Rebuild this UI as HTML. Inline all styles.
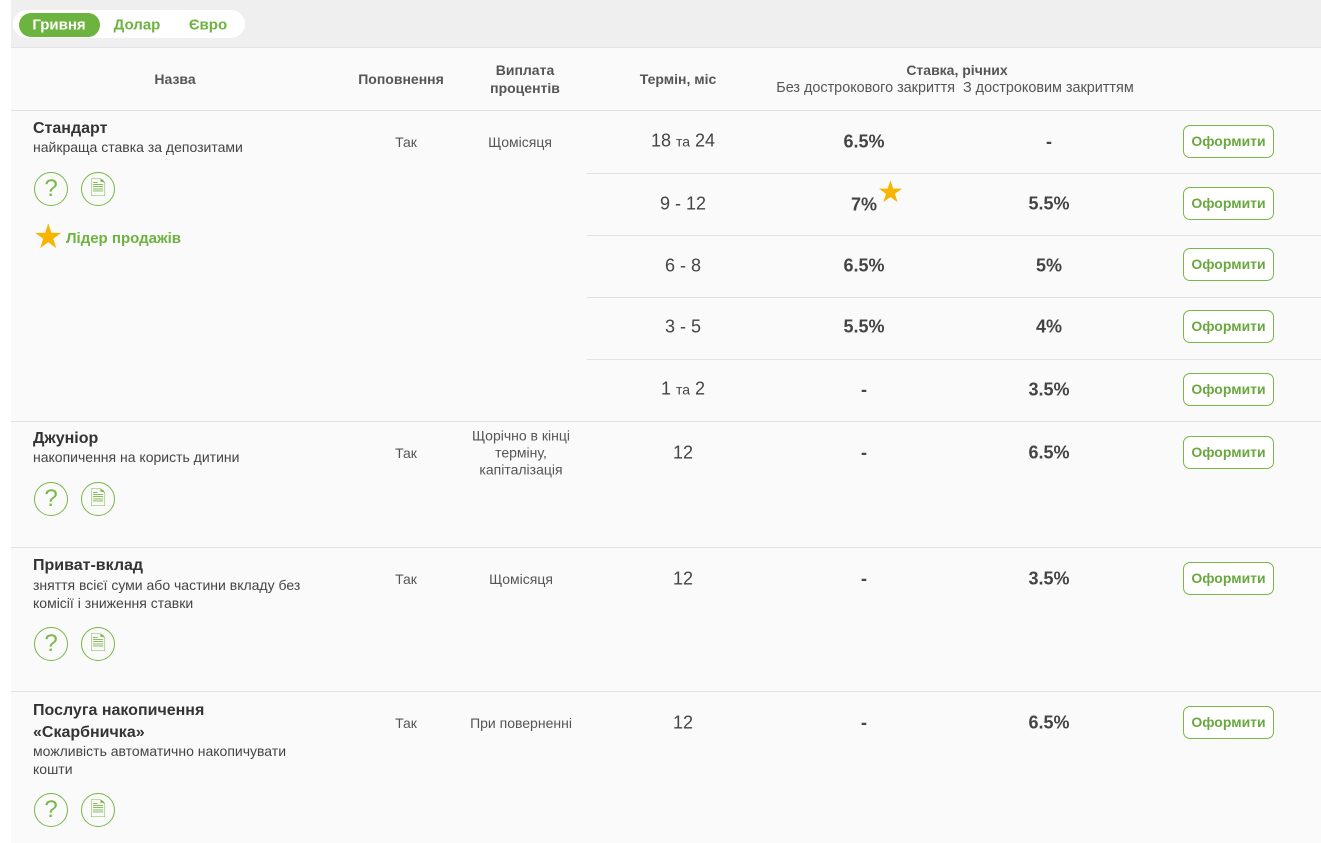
<!DOCTYPE html><html><head><meta charset="utf-8"><style>
body{margin:0;width:1321px;height:843px;position:relative;overflow:hidden;background:#fff;font-family:"Liberation Sans",Arial,sans-serif;color:#444}
.a{position:absolute;white-space:nowrap}
.c{position:absolute;transform:translate(-50%,-50%);white-space:nowrap;text-align:center}
.hl{position:absolute;height:1px;background:#e2e2e2;right:0}
.h{font-size:14px;font-weight:bold;color:#555}
.t{font-size:14px;color:#555}
.n{font-size:18px;color:#444}
.r{font-size:18px;font-weight:bold;color:#444}
.btn{position:absolute;left:1183px;width:89px;height:31px;border:1px solid #7ab648;border-radius:7px;color:#6aa83f;font-weight:bold;font-size:14px;line-height:31px;text-align:center;background:#fff}
.ic{position:absolute;width:32px;height:32px;border:1.5px solid #7ab648;border-radius:50%;color:#7ab648;text-align:center;line-height:32px;font-size:24px}
.ttl{font-size:16px;font-weight:bold;color:#333}
.sub{font-size:14px;color:#444}
</style></head><body>
<div class="a" style="left:11px;top:0;width:1310px;height:47px;background:#efefef"></div>
<div class="a" style="left:11px;top:47px;width:1310px;height:796px;background:#fafafa"></div>
<div class="a" style="left:13px;top:10px;width:232px;height:28px;border-radius:14px;background:#fff"></div>
<div class="a" style="left:19px;top:13px;width:81px;height:24px;border-radius:12px;background:#6cb33f"></div>
<div class="c" style="left:59px;top:25px;font-size:15px;font-weight:bold;color:#fff">Гривня</div>
<div class="c" style="left:137px;top:25px;font-size:15px;font-weight:bold;color:#6cb33f">Долар</div>
<div class="c" style="left:208px;top:25px;font-size:15px;font-weight:bold;color:#6cb33f">Євро</div>
<div class="hl" style="left:11px;top:47px"></div>
<div class="hl" style="left:11px;top:110px"></div>
<div class="hl" style="left:587px;top:173px"></div>
<div class="hl" style="left:587px;top:235px"></div>
<div class="hl" style="left:587px;top:297px"></div>
<div class="hl" style="left:587px;top:359px"></div>
<div class="hl" style="left:11px;top:421px"></div>
<div class="hl" style="left:11px;top:547px"></div>
<div class="hl" style="left:11px;top:691px"></div>

<div class="c h" style="left:175px;top:79px">Назва</div>
<div class="c h" style="left:401px;top:79px">Поповнення</div>
<div class="c h" style="left:525px;top:79px;line-height:18px">Виплата<br>процентів</div>
<div class="c h" style="left:678px;top:79px">Термін, міс</div>
<div class="c h" style="left:957px;top:70px">Ставка, річних</div>
<div class="c t" style="left:955px;top:88px;font-size:14.4px">Без дострокового закриття &nbsp;З достроковим закриттям</div>

<!-- Standart -->
<div class="a ttl" style="left:33px;top:120px">Стандарт</div>
<div class="a sub" style="left:33px;top:139px">найкраща ставка за депозитами</div>
<div class="ic" style="left:34px;top:172px">?</div>
<div class="ic" style="left:81px;top:172px;font-size:20px">🗎</div>
<div class="a" style="left:33px;top:220px;font-size:34px;color:#f7b500;line-height:34px">★</div>
<div class="a" style="left:66px;top:230px;font-size:15px;font-weight:bold;color:#6cb33f">Лідер продажів</div>
<div class="c t" style="left:406px;top:142px">Так</div>
<div class="c t" style="left:520px;top:142px">Щомісяця</div>

<div class="c n" style="left:683px;top:141px">18 <span style="font-size:14px">та</span> 24</div>
<div class="c r" style="left:864px;top:142px">6.5%</div>
<div class="c r" style="left:1049px;top:142px">-</div>
<div class="btn" style="top:125px">Оформити</div>

<div class="c n" style="left:683px;top:204px">9 - 12</div>
<div class="c r" style="left:864px;top:205px">7%</div>
<div class="a" style="left:877px;top:178px;font-size:30px;color:#f7b500;line-height:30px">★</div>
<div class="c r" style="left:1049px;top:204px">5.5%</div>
<div class="btn" style="top:187px">Оформити</div>

<div class="c n" style="left:683px;top:266px">6 - 8</div>
<div class="c r" style="left:864px;top:266px">6.5%</div>
<div class="c r" style="left:1049px;top:266px">5%</div>
<div class="btn" style="top:248px">Оформити</div>

<div class="c n" style="left:683px;top:327px">3 - 5</div>
<div class="c r" style="left:864px;top:327px">5.5%</div>
<div class="c r" style="left:1049px;top:327px">4%</div>
<div class="btn" style="top:310px">Оформити</div>

<div class="c n" style="left:683px;top:389px">1 <span style="font-size:14px">та</span> 2</div>
<div class="c r" style="left:864px;top:390px">-</div>
<div class="c r" style="left:1049px;top:390px">3.5%</div>
<div class="btn" style="top:373px">Оформити</div>

<!-- Junior -->
<div class="a ttl" style="left:33px;top:430px">Джуніор</div>
<div class="a sub" style="left:33px;top:449px">накопичення на користь дитини</div>
<div class="ic" style="left:34px;top:482px">?</div>
<div class="ic" style="left:81px;top:482px;font-size:20px">🗎</div>
<div class="c t" style="left:406px;top:453px">Так</div>
<div class="c t" style="left:521px;top:453px;line-height:17px">Щорічно в кінці<br>терміну,<br>капіталізація</div>
<div class="c n" style="left:683px;top:453px">12</div>
<div class="c r" style="left:864px;top:453px">-</div>
<div class="c r" style="left:1049px;top:453px">6.5%</div>
<div class="btn" style="top:436px">Оформити</div>

<!-- Privat -->
<div class="a ttl" style="left:33px;top:557px">Приват-вклад</div>
<div class="a sub" style="left:33px;top:576px;line-height:18px">зняття всієї суми або частини вкладу без<br>комісії і зниження ставки</div>
<div class="ic" style="left:34px;top:627px">?</div>
<div class="ic" style="left:81px;top:627px;font-size:20px">🗎</div>
<div class="c t" style="left:406px;top:579px">Так</div>
<div class="c t" style="left:521px;top:579px">Щомісяця</div>
<div class="c n" style="left:683px;top:579px">12</div>
<div class="c r" style="left:864px;top:579px">-</div>
<div class="c r" style="left:1049px;top:579px">3.5%</div>
<div class="btn" style="top:562px">Оформити</div>

<!-- Posluga -->
<div class="a ttl" style="left:33px;top:700px;line-height:22px">Послуга накопичення<br>«Скарбничка»</div>
<div class="a sub" style="left:33px;top:742px;line-height:18px">можливість автоматично накопичувати<br>кошти</div>
<div class="ic" style="left:34px;top:793px">?</div>
<div class="ic" style="left:81px;top:793px;font-size:20px">🗎</div>
<div class="c t" style="left:406px;top:723px">Так</div>
<div class="c t" style="left:521px;top:723px">При поверненні</div>
<div class="c n" style="left:683px;top:723px">12</div>
<div class="c r" style="left:864px;top:723px">-</div>
<div class="c r" style="left:1049px;top:723px">6.5%</div>
<div class="btn" style="top:706px">Оформити</div>
</body></html>
